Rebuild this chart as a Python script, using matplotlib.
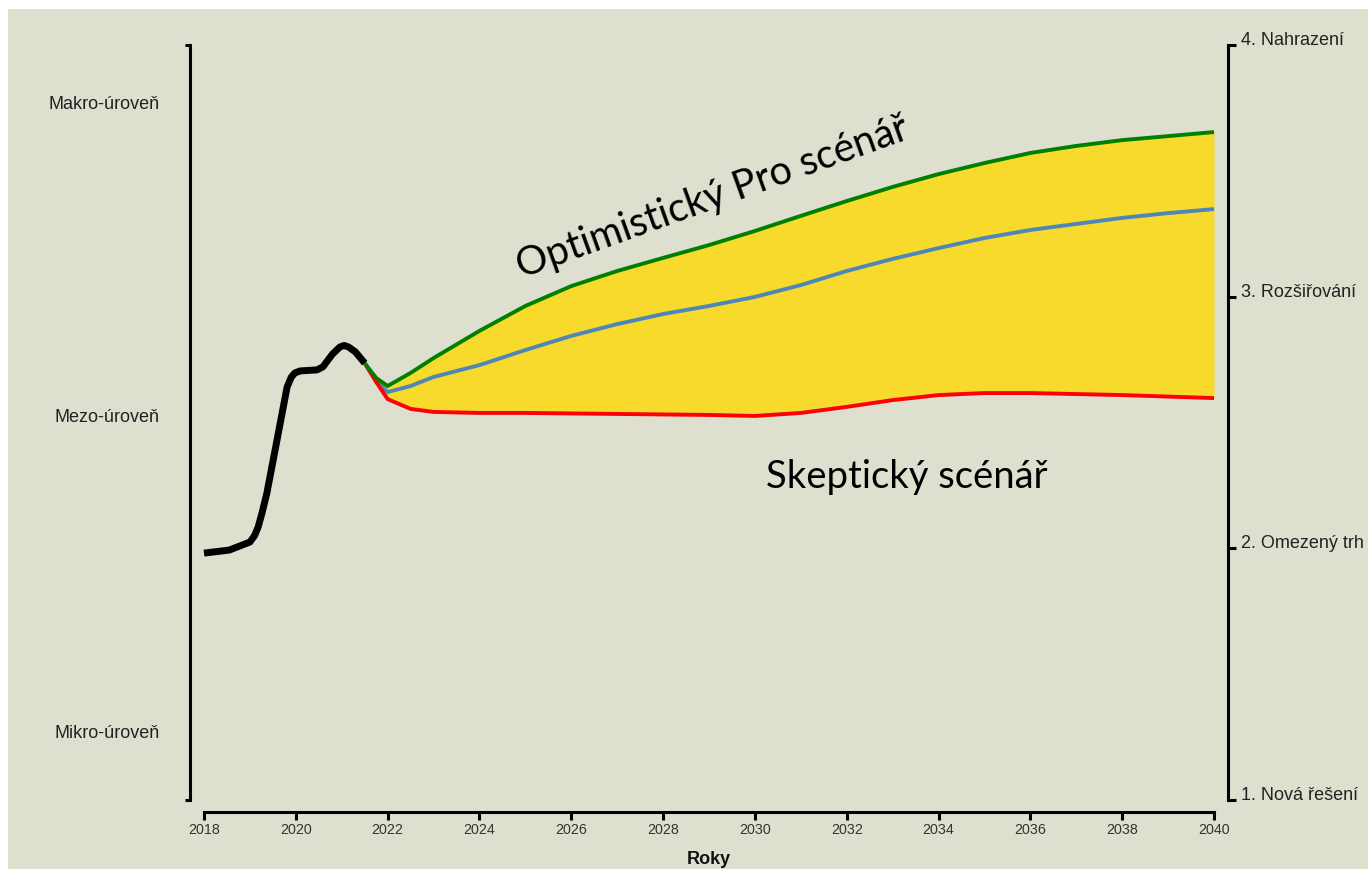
import matplotlib
matplotlib.use("Agg")
import matplotlib.pyplot as plt
from matplotlib.patches import Rectangle

plt.rcParams['font.family'] = ['Liberation Sans', 'DejaVu Sans']

# historie (roky, úroveň 1-4)
hist_years = [2018, 2018.55, 2019, 2019.1, 2019.18, 2019.27, 2019.37, 2019.59, 2019.81,
              2019.9, 2019.98, 2020.1, 2020.46, 2020.59, 2020.7, 2020.8, 2020.96,
              2021.05, 2021.15, 2021.3, 2021.5]
hist_vals = [1.981, 1.993, 2.025, 2.050, 2.085, 2.145, 2.220, 2.430, 2.641,
             2.680, 2.697, 2.705, 2.709, 2.721, 2.748, 2.772, 2.800,
             2.806, 2.800, 2.780, 2.736]

# scénáře
sc_years = [2021.5, 2021.75, 2022, 2022.5, 2023, 2024, 2025, 2026, 2027, 2028, 2029,
            2030, 2031, 2032, 2033, 2034, 2035, 2036, 2037, 2038, 2039, 2040]
optimistic = [2.736, 2.677, 2.645, 2.697, 2.756, 2.864, 2.963, 3.042, 3.102, 3.154, 3.205,
              3.261, 3.321, 3.380, 3.436, 3.487, 3.531, 3.571, 3.599, 3.622, 3.638, 3.654]
middle = [2.736, 2.665, 2.621, 2.645, 2.681, 2.728, 2.788, 2.844, 2.891, 2.931, 2.963,
          2.999, 3.046, 3.102, 3.150, 3.193, 3.233, 3.265, 3.289, 3.313, 3.332, 3.348]
skeptic = [2.736, 2.661, 2.593, 2.554, 2.542, 2.538, 2.538, 2.536, 2.534, 2.532, 2.530,
           2.526, 2.538, 2.562, 2.589, 2.609, 2.617, 2.617, 2.613, 2.609, 2.603, 2.597]

x_ticks = list(range(2018, 2041, 2))
left_labels = ['Mikro-úroveň', 'Mezo-úroveň', 'Makro-úroveň']
left_pos = [1.274, 2.526, 3.773]
right_ticks = [1, 2, 3, 4]
right_labels = ['1. Nová řešení', '2. Omezený trh', '3. Rozšiřování', '4. Nahrazení']

bg = '#DFDFD0'
fig = plt.figure(figsize=(13.68, 8.69), dpi=100, facecolor='white')
fig.patches.append(Rectangle((8 / 1368, 0), 1, 1 - 9 / 869, transform=fig.transFigure,
                             facecolor=bg, edgecolor='none', zorder=-10))

ax = fig.add_axes([190 / 1368, 57 / 869, 1038 / 1368, 767 / 869])
ax.set_facecolor('none')
ax.set_xlim(2017.695, 2040.305)
ax.set_ylim(0.9523, 4.0)

# vyplnění mezi scénáři
ax.fill_between(sc_years, skeptic, optimistic, color='#F8DA2C', linewidth=0, zorder=1)
line_kw = dict(lw=2.8, zorder=3, solid_capstyle='butt', solid_joinstyle='round')
ax.plot(sc_years, middle, color='#4F86B8', **line_kw)
ax.plot(sc_years, skeptic, color='#FF0000', **line_kw)
ax.plot(sc_years, optimistic, color='#008000', **line_kw)
ax.plot(hist_years, hist_vals, color='black', lw=5, zorder=4,
        solid_capstyle='butt', solid_joinstyle='round')

# osy
for s in ['left', 'bottom', 'right']:
    ax.spines[s].set_linewidth(2.2)
ax.spines['top'].set_visible(False)
ax.spines['left'].set_bounds(1, 4)
ax.spines['right'].set_bounds(1, 4)
ax.spines['bottom'].set_bounds(2018, 2040)

ax.set_xticks(x_ticks)
ax.tick_params(axis='x', length=5.8, width=2.2, pad=2, labelsize=10.3, labelcolor='#333333')
ax.set_xlabel('Roky', fontsize=13, fontweight='bold', labelpad=10, color='#111111')

ax.set_yticks(left_pos)
ax.set_yticklabels(left_labels)
ax.set_yticks([1, 4], minor=True)
ax.tick_params(axis='y', which='major', length=0, pad=21.6, labelsize=13, labelcolor='#222222')
ax.tick_params(axis='y', which='minor', length=3.6, width=2.2)

ax2 = ax.twinx()
ax2.set_ylim(ax.get_ylim())
for s in ['left', 'bottom', 'top', 'right']:
    ax2.spines[s].set_visible(False)
ax2.set_yticks(right_ticks)
ax2.set_yticklabels(right_labels)
ax2.tick_params(axis='y', length=5.8, width=2.2, pad=3.5, labelsize=13, labelcolor='#222222')
for lab in ax2.get_yticklabels():
    lab.set_va('baseline')

# popisky scénářů
ax.text(2029.07, 3.395, 'Optimistický Pro scénář', fontsize=28.5, family=['Lato', 'DejaVu Sans'],
        rotation=19.8, ha='center', va='center', rotation_mode='anchor', color='black', zorder=5)
ax.text(2033.31, 2.283, 'Skeptický scénář', fontsize=27.5, family=['Lato', 'DejaVu Sans'],
        ha='center', va='center', color='black', zorder=5)

fig.savefig('out.png', dpi=100, facecolor=fig.get_facecolor())
